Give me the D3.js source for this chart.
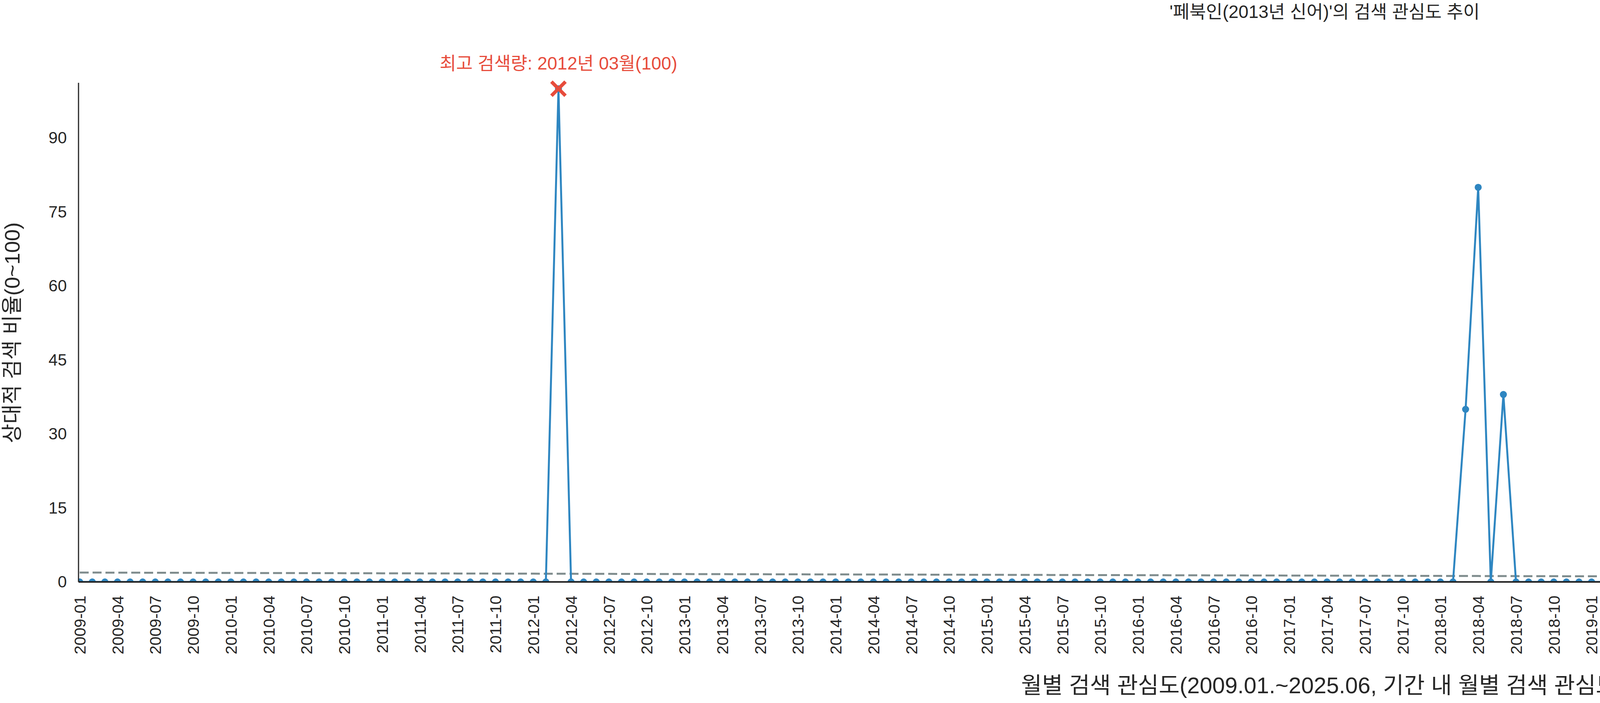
<!DOCTYPE html>
<html>
<head>
<meta charset="utf-8">
<script src="https://cdn.jsdelivr.net/npm/d3@7"></script>
<style>
  body { margin: 0; background: #fff; }
  text { font-family: "Liberation Sans", "Noto Sans CJK KR", sans-serif; fill: #262626; }
</style>
</head>
<body>
<svg id="chart" width="6600" height="1800"></svg>
<script>
// months 2009-01 .. 2025-06
const months = [];
for (let yr = 2009; yr <= 2025; yr++) {
  for (let m = 1; m <= 12; m++) {
    if (yr === 2025 && m > 6) break;
    months.push(`${yr}-${String(m).padStart(2, '0')}`);
  }
}
// non-zero months, everything else is 0
const peaks = { '2012-03': 100, '2018-03': 35, '2018-04': 80, '2018-06': 38 };
const values = months.map(m => peaks[m] || 0);
const yTicks = [0, 15, 30, 45, 60, 75, 90];
const tickMonths = months.filter((m, i) => i % 3 === 0);

const svg = d3.select('#chart');
const pLeft = 201, pRight = 6588, pTop = 212, pBottom = 1490;

const x = d3.scaleLinear().domain([0, months.length - 1]).range([204, 6558]);
const y = d3.scaleLinear().domain([0, 101.2]).range([pBottom, pTop]);

svg.append('defs').append('clipPath').attr('id', 'clip')
  .append('rect').attr('x', pLeft).attr('y', 0).attr('width', pRight - pLeft).attr('height', pBottom);

// trend line: least squares over the series
const mx = d3.mean(values, (d, i) => i), my = d3.mean(values);
const slope = d3.sum(values, (d, i) => (i - mx) * (d - my)) / d3.sum(values, (d, i) => (i - mx) ** 2);
const trend = values.map((d, i) => my + slope * (i - mx));

const g = svg.append('g').attr('clip-path', 'url(#clip)');

g.append('path')
  .datum(trend)
  .attr('fill', 'none')
  .attr('stroke', '#7F8C8D')
  .attr('stroke-width', 5)
  .attr('stroke-dasharray', '23,10')
  .attr('d', d3.line().x((d, i) => x(i)).y(d => y(d)));

g.append('path')
  .datum(values)
  .attr('fill', 'none')
  .attr('stroke', '#2E86C1')
  .attr('stroke-width', 5)
  .attr('stroke-linejoin', 'round')
  .attr('d', d3.line().x((d, i) => x(i)).y(d => y(d)));

g.selectAll('.dot')
  .data(values)
  .enter().append('circle')
  .attr('cx', (d, i) => x(i))
  .attr('cy', d => y(d))
  .attr('r', 9)
  .attr('fill', '#2E86C1');

// axes
const yAxis = svg.append('g')
  .attr('transform', `translate(${pLeft},0)`)
  .call(d3.axisLeft(y).tickValues(yTicks).tickSize(0).tickPadding(30));
yAxis.select('.domain').attr('stroke', '#262626').attr('stroke-width', 3)
  .attr('d', `M0,${pBottom}V${pTop}`);
yAxis.selectAll('text').attr('font-size', 42).attr('fill', '#262626')
  .style('font-family', '"Liberation Sans", sans-serif');

const xAxis = svg.append('g')
  .attr('transform', `translate(0,${pBottom})`)
  .call(d3.axisBottom(x)
    .tickValues(tickMonths.map(m => months.indexOf(m)))
    .tickFormat(i => months[i])
    .tickSize(0));
xAxis.select('.domain').attr('stroke', '#222').attr('stroke-width', 4)
  .attr('d', `M${pLeft},0H${pRight}`);
xAxis.selectAll('text')
  .attr('font-size', 41)
  .attr('fill', '#262626')
  .attr('text-anchor', 'end')
  .attr('transform', 'rotate(-90)')
  .attr('x', -35).attr('y', 0).attr('dy', '0.35em');

// max annotation
const iMax = d3.maxIndex(values);
const mxp = x(iMax), myp = y(values[iMax]);
svg.append('path')
  .attr('d', `M${mxp - 18},${myp - 18}L${mxp + 18},${myp + 18}M${mxp - 18},${myp + 18}L${mxp + 18},${myp - 18}`)
  .attr('stroke', '#E74C3C').attr('stroke-width', 9);
svg.append('text')
  .attr('x', mxp).attr('y', 178)
  .attr('text-anchor', 'middle')
  .attr('font-size', 46)
  .style('fill', '#E74C3C')
  .text(`최고 검색량: ${months[iMax].slice(0, 4)}년 ${months[iMax].slice(5)}월(${values[iMax]})`);

// titles
svg.append('text').attr('x', 3391).attr('y', 46).attr('text-anchor', 'middle')
  .attr('font-size', 46).text("'페북인(2013년 신어)'의 검색 관심도 추이");
svg.append('text').attr('x', 3386).attr('y', 1775).attr('text-anchor', 'middle')
  .attr('font-size', 58).text('월별 검색 관심도(2009.01.~2025.06, 기간 내 월별 검색 관심도)');
svg.append('text').attr('transform', 'translate(50,852) rotate(-90)').attr('text-anchor', 'middle')
  .attr('font-size', 54).text('상대적 검색 비율(0~100)');

// legend
const lg = svg.append('g');
lg.append('rect').attr('x', 6292).attr('y', 42).attr('width', 273).attr('height', 138)
  .attr('rx', 6).attr('fill', '#fff').attr('stroke', '#d6d6d6').attr('stroke-width', 4);
lg.append('line').attr('x1', 6308).attr('x2', 6394).attr('y1', 76).attr('y2', 76)
  .attr('stroke', '#2E86C1').attr('stroke-width', 5);
lg.append('circle').attr('cx', 6351).attr('cy', 76).attr('r', 9).attr('fill', '#2E86C1');
lg.append('line').attr('x1', 6308).attr('x2', 6394).attr('y1', 138).attr('y2', 138)
  .attr('stroke', '#7F8C8D').attr('stroke-width', 5).attr('stroke-dasharray', '23,10');
lg.append('text').attr('x', 6427).attr('y', 92).attr('font-size', 46).text('페북인');
lg.append('text').attr('x', 6427).attr('y', 154).attr('font-size', 46).text('추세선');
</script>
</body>
</html>
